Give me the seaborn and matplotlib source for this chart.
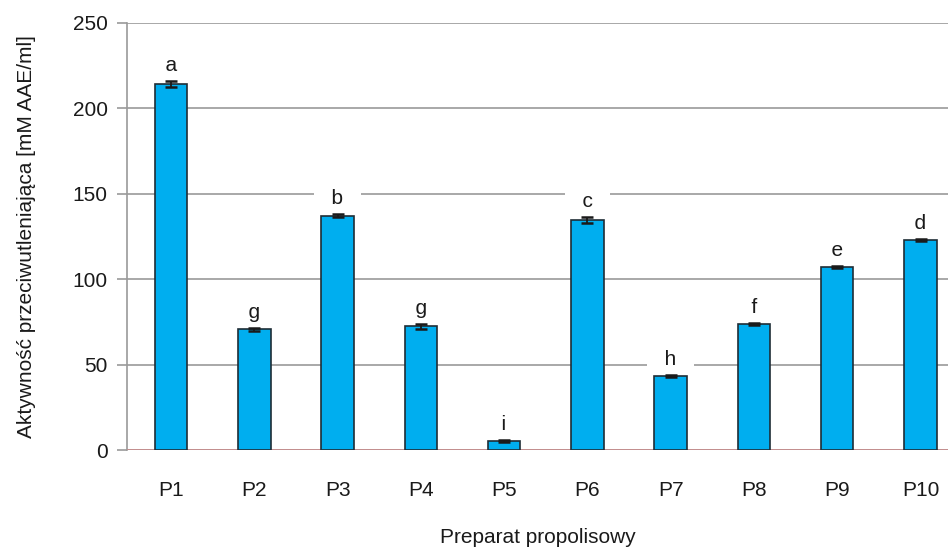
import pandas as pd
import seaborn as sns
import matplotlib.pyplot as plt

# Antioxidant activity of propolis preparations
preparaty = ['P1', 'P2', 'P3', 'P4', 'P5', 'P6', 'P7', 'P8', 'P9', 'P10']
aktywnosc = [214.3, 70.8, 137.3, 72.4, 5.3, 134.8, 43.3, 73.8, 107.1, 123.0]
odchylenie = [1.8, 0.9, 0.8, 1.4, 0.5, 1.8, 0.6, 0.8, 0.7, 0.8]
litery = ['a', 'g', 'b', 'g', 'i', 'c', 'h', 'f', 'e', 'd']

df = pd.DataFrame({'preparat': preparaty, 'aktywnosc': aktywnosc, 'sd': odchylenie})

sns.set_style('white')
plt.rcParams['font.family'] = ['Liberation Sans', 'DejaVu Sans']

fig = plt.figure(figsize=(9.48, 5.47), dpi=100)
ax = fig.add_axes([0.134, 0.177, 0.866, 0.781])

sns.barplot(data=df, x='preparat', y='aktywnosc', color='#00AEEF', width=0.39,
            edgecolor='#1f2d36', linewidth=1.2, saturation=1, ax=ax, zorder=3)
ax.errorbar(range(len(df)), df['aktywnosc'], yerr=df['sd'], fmt='none',
            ecolor='#1a1a1a', elinewidth=1.3, capsize=4.5, capthick=1.8, zorder=4)

# letters with a white box that hides the gridline behind them
for i, (v, s, l) in enumerate(zip(aktywnosc, odchylenie, litery)):
    ax.text(i, v + s + 9, '  ' + l + '  ', ha='center', va='center', fontsize=15,
            color='#1a1a1a', zorder=2.5,
            bbox=dict(boxstyle='square,pad=0.3', fc='white', ec='none'))

ax.set_ylim(0, 250)
ax.set_xlim(-0.53, 9.33)
ax.set_yticks(range(0, 251, 50))
ax.yaxis.grid(True, color='#9a9a9a', linewidth=1.2, zorder=0)
ax.set_axisbelow(True)
ax.axhline(0, color='#c98a8a', linewidth=1.2, zorder=2.6)

for side in ['top', 'right', 'bottom']:
    ax.spines[side].set_visible(False)
ax.spines['left'].set_color('#9a9a9a')
ax.spines['left'].set_linewidth(1.2)

ax.tick_params(axis='y', length=7, width=1.2, color='#9a9a9a', pad=7,
               labelsize=15, labelcolor='#1a1a1a', left=True)
ax.tick_params(axis='x', length=0, pad=22, labelsize=15, labelcolor='#1a1a1a')

ax.set_xlabel('Preparat propolisowy', fontsize=15, color='#1a1a1a', labelpad=20)
ax.set_ylabel('Aktywność przeciwutleniająca [mM AAE/ml]', fontsize=15,
              color='#1a1a1a', labelpad=26)

fig.savefig('out.png', dpi=100)
